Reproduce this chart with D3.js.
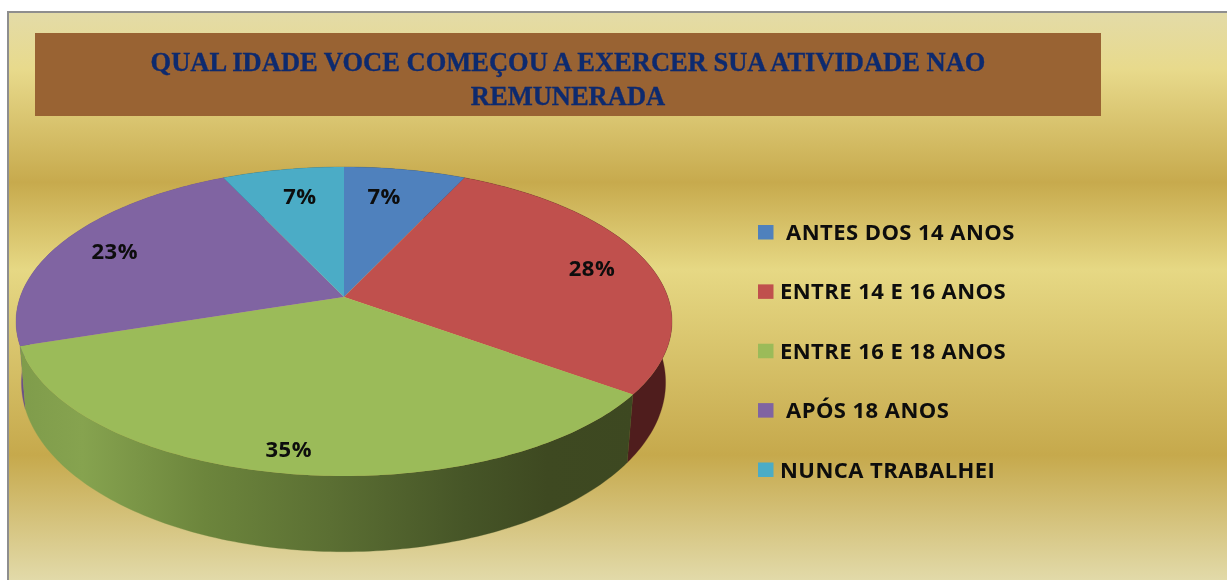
<!DOCTYPE html>
<html><head><meta charset="utf-8">
<script src="https://cdn.jsdelivr.net/npm/d3@7"></script>
<style>html,body{margin:0;padding:0;background:#fff;overflow:hidden}svg{display:block}</style>
</head><body><svg id="c" width="1227" height="580"></svg>
<script>
const categories = ["ANTES DOS 14 ANOS","ENTRE 14 E 16 ANOS","ENTRE 16 E 18 ANOS","APÓS 18 ANOS","NUNCA TRABALHEI"];
const values = [7,28,35,23,7];
const colors = ["#4f81bd","#c0504d","#9bbb59","#8064a2","#4bacc6"];
const wallColors = ["#2c4a70","#4f1d1d","url(#greenWall)","#6a5088","#2a6a7c"];
const titleLines = ["QUAL IDADE VOCE COMEÇOU A EXERCER SUA ATIVIDADE NAO","REMUNERADA"];
const legendIndent = [26,20,20,26,20];
const labelRadiusX = [0.656,0.822,0.92,0.82,0.72];
const labelRadiusY = [0.79,0.8,0.861,0.82,0.79];

const svg = d3.select("#c");
const defs = svg.append("defs");
const bg = defs.append("linearGradient").attr("id","bg").attr("gradientUnits","userSpaceOnUse")
  .attr("x1",0).attr("y1",12).attr("x2",0).attr("y2",580);
[[0,"#e3dba8"],[0.1,"#e8da8c"],[0.3,"#c7aa4d"],[0.454,"#e6d884"],[0.78,"#c6a94c"],[1,"#e2daa9"]]
  .forEach(s=>bg.append("stop").attr("offset",s[0]).attr("stop-color",s[1]));
const gw = defs.append("linearGradient").attr("id","greenWall").attr("gradientUnits","userSpaceOnUse")
  .attr("x1",20).attr("x2",640).attr("y1",0).attr("y2",0);
[[0,"#7f9c4b"],[0.1,"#86a34f"],[0.3,"#6c853c"],[0.5,"#5b6f33"],[0.72,"#465527"],[0.85,"#3e4921"],[1,"#3d4821"]]
  .forEach(s=>gw.append("stop").attr("offset",s[0]).attr("stop-color",s[1]));
const soft = defs.append("filter").attr("id","soft").attr("x","-5%").attr("y","-5%").attr("width","110%").attr("height","110%");
soft.append("feGaussianBlur").attr("stdDeviation",0.45);

// frame
svg.append("rect").attr("x",8).attr("y",12).attr("width",1240).attr("height",600)
  .attr("fill","url(#bg)").attr("stroke","#8e8e8e").attr("stroke-width",2);

// title band
svg.append("rect").attr("x",35).attr("y",33).attr("width",1066).attr("height",83).attr("fill","#996333");
svg.append("g").attr("filter","url(#soft)").selectAll("text").data(titleLines).join("text")
  .attr("x",568).attr("y",(d,i)=>71+i*34).attr("text-anchor","middle")
  .attr("font-family","'Liberation Serif',serif").attr("font-weight",700).attr("font-size",26.5)
  .attr("stroke","#0f2a6e").attr("stroke-width",0.35)
  .attr("fill","#0f2a6e").text(d=>d);

// perspective pie: projection of the disc
const K = 0.1586;
const project = (plane, a) => {
  const u = Math.sin(a), v = -Math.cos(a), w = 1 - K*v;
  return [plane.cx + plane.A*u/w, plane.cy + plane.B*v/w];
};
const topPlane = {cx:344, cy:297, A:323.8, B:150.6};
const botPlane = {cx:343.5, cy:355.6, A:318, B:165};
const arcs = d3.pie().sort(null).value(d=>d)(values);
const samples = (s,e) => { const n = Math.max(2,Math.ceil((e-s)*180/Math.PI)); return d3.range(n+1).map(i=>s+(e-s)*i/n); };
const line = d3.line();

const pieG = svg.append("g");
// walls, back to front
[0,4,1,3,2].forEach(i=>{
  const a = arcs[i], as = samples(a.startAngle,a.endAngle);
  const pts = as.map(t=>project(topPlane,t)).concat(as.slice().reverse().map(t=>project(botPlane,t)));
  pieG.append("path").attr("d",line(pts)+"Z").attr("fill",wallColors[i]).attr("stroke",wallColors[i]).attr("stroke-width",0.3);
});
// top faces
arcs.forEach((a,i)=>{
  const pts = [[topPlane.cx,topPlane.cy]].concat(samples(a.startAngle,a.endAngle).map(t=>project(topPlane,t)));
  pieG.append("path").attr("d",line(pts)+"Z").attr("fill",colors[i]);
});

// percentage labels
const total = d3.sum(values);
const labelFont = "'Open Sans','Noto Sans',sans-serif";
const labPos = arcs.map((a,i)=>{
  const rim = project(topPlane,(a.startAngle+a.endAngle)/2);
  return [topPlane.cx + (rim[0]-topPlane.cx)*labelRadiusX[i],
          topPlane.cy + (rim[1]-topPlane.cy)*labelRadiusY[i]];
});
svg.append("g").attr("filter","url(#soft)").selectAll("text").data(values).join("text")
  .attr("x",(d,i)=>labPos[i][0]).attr("y",(d,i)=>labPos[i][1]+8)
  .attr("text-anchor","middle").attr("font-family",labelFont).attr("font-weight",700)
  .attr("font-size",22).attr("letter-spacing",0.45).attr("fill","#0a0a0a")
  .text(d=>Math.round(d/total*100)+"%");

// legend
const ly = d3.scalePoint().domain(categories).range([232,469.5]);
const leg = svg.append("g");
leg.selectAll("rect").data(categories).join("rect")
  .attr("x",758).attr("y",d=>ly(d)-7).attr("width",15.5).attr("height",14.5)
  .attr("fill",(d,i)=>colors[i]);
leg.append("g").attr("filter","url(#soft)").selectAll("text").data(categories).join("text")
  .attr("x",(d,i)=>760+legendIndent[i]).attr("y",d=>ly(d)+8)
  .attr("font-family",labelFont).attr("font-weight",700).attr("font-size",22)
  .attr("letter-spacing",0.45).attr("fill","#0a0a0a").text(d=>d);
</script></body></html>
